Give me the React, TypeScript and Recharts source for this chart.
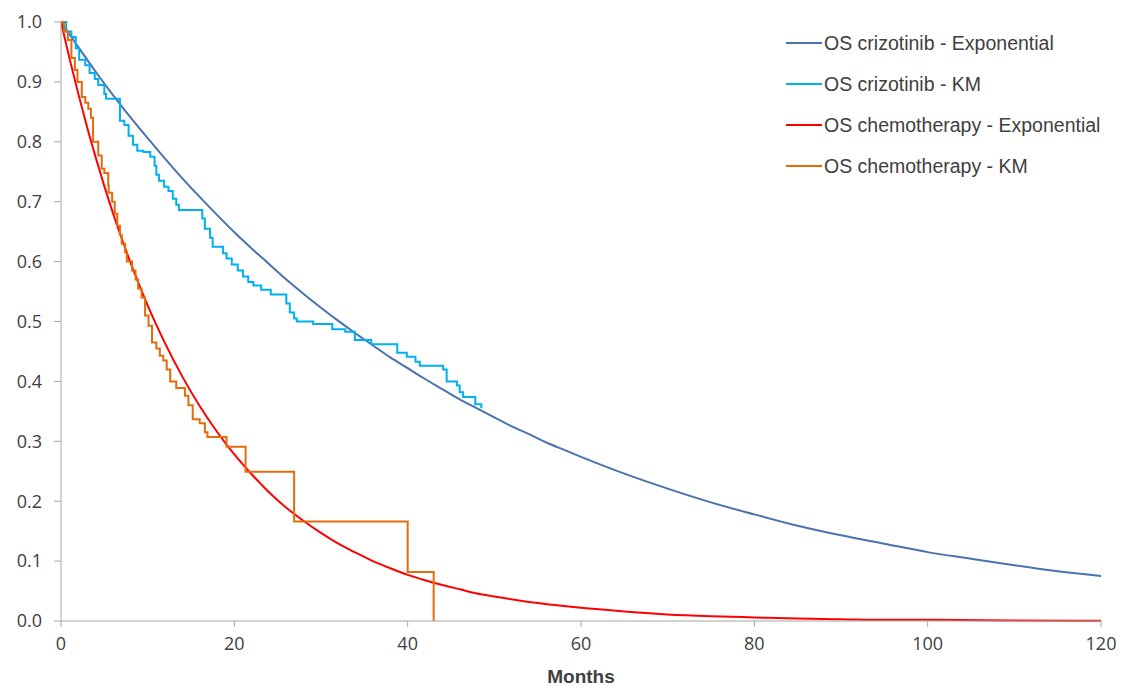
import React from 'react';
import { LineChart, Line, XAxis, YAxis, Label } from 'recharts';

// ---- Data ----
const crizoExpMonths = [0, 2, 4, 6, 8, 10, 12, 14, 16, 18, 20, 22, 24, 26, 28, 30, 32, 34, 36, 38, 40, 42, 44, 46, 48, 50, 52, 54, 56, 58, 60, 65, 70, 75, 80, 85, 90, 95, 100, 105, 110, 115, 120];
const crizoExpSurv = [1.0, 0.958, 0.917, 0.878, 0.841, 0.806, 0.772, 0.739, 0.708, 0.678, 0.649, 0.622, 0.596, 0.570, 0.546, 0.523, 0.501, 0.480, 0.460, 0.440, 0.422, 0.404, 0.387, 0.370, 0.355, 0.340, 0.325, 0.312, 0.298, 0.286, 0.274, 0.246, 0.221, 0.198, 0.178, 0.159, 0.143, 0.129, 0.115, 0.104, 0.093, 0.083, 0.075];

const crizoKmMonths = [0, 0.6, 1.2, 1.7, 2.1, 2.8, 3.3, 3.9, 4.3, 5.0, 5.2, 6.8, 7.3, 7.8, 8.3, 8.8, 9.5, 10.3, 10.8, 11.0, 11.3, 11.9, 12.4, 12.9, 13.3, 13.6, 16.3, 16.6, 17.2, 17.5, 18.7, 19.1, 19.7, 20.4, 21.0, 21.6, 22.2, 23.1, 24.2, 26.0, 26.4, 26.9, 27.2, 29.1, 31.3, 32.8, 33.9, 35.8, 38.8, 39.9, 40.9, 41.4, 44.1, 44.5, 45.7, 46.0, 46.4, 47.8, 48.5];
const crizoKmSurv = [1.0, 0.984, 0.975, 0.956, 0.937, 0.928, 0.915, 0.905, 0.895, 0.880, 0.872, 0.835, 0.828, 0.810, 0.795, 0.785, 0.783, 0.775, 0.760, 0.745, 0.735, 0.725, 0.718, 0.705, 0.695, 0.686, 0.672, 0.655, 0.640, 0.625, 0.614, 0.605, 0.595, 0.585, 0.575, 0.566, 0.560, 0.553, 0.545, 0.530, 0.515, 0.505, 0.500, 0.496, 0.487, 0.483, 0.469, 0.462, 0.448, 0.441, 0.433, 0.426, 0.420, 0.400, 0.393, 0.382, 0.374, 0.362, 0.355];

const chemoExpMonths = [0, 1, 2, 3, 4, 5, 6, 7, 8, 9, 10, 12, 14, 16, 18, 20, 22, 24, 26, 28, 30, 32, 34, 36, 38, 40, 42, 44, 46, 48, 50, 55, 60, 65, 70, 75, 80, 85, 90, 95, 100, 110, 120];
const chemoExpSurv = [1.0, 0.938, 0.880, 0.825, 0.774, 0.726, 0.681, 0.639, 0.599, 0.562, 0.527, 0.464, 0.408, 0.359, 0.316, 0.278, 0.245, 0.215, 0.189, 0.167, 0.147, 0.129, 0.114, 0.100, 0.088, 0.077, 0.068, 0.060, 0.053, 0.046, 0.041, 0.030, 0.022, 0.016, 0.011, 0.008, 0.006, 0.004, 0.003, 0.002, 0.002, 0.001, 0.0005];

const chemoKmMonths = [0, 0.35, 0.8, 1.2, 1.6, 1.9, 2.4, 2.8, 3.15, 3.45, 3.7, 4.3, 4.7, 5.0, 5.45, 5.5, 5.9, 6.2, 6.5, 6.8, 7.0, 7.4, 7.6, 8.2, 8.6, 8.9, 9.3, 9.7, 10.1, 10.5, 11.0, 11.4, 11.8, 12.2, 12.6, 13.3, 14.3, 14.7, 15.2, 16.0, 16.6, 16.9, 19.1, 21.3, 26.9, 40.0, 43.0];
const chemoKmSurv = [1.0, 0.984, 0.970, 0.940, 0.920, 0.900, 0.875, 0.865, 0.855, 0.840, 0.800, 0.777, 0.755, 0.748, 0.728, 0.715, 0.700, 0.680, 0.660, 0.645, 0.630, 0.615, 0.600, 0.585, 0.570, 0.555, 0.540, 0.510, 0.493, 0.465, 0.455, 0.443, 0.435, 0.420, 0.400, 0.389, 0.376, 0.360, 0.337, 0.330, 0.315, 0.307, 0.291, 0.249, 0.166, 0.082, 0.0];

const xTicks = [0, 20, 40, 60, 80, 100, 120];
const yTicks = [0, 0.1, 0.2, 0.3, 0.4, 0.5, 0.6, 0.7, 0.8, 0.9, 1.0];

const seriesNames = [
  'OS crizotinib - Exponential',
  'OS crizotinib - KM',
  'OS chemotherapy - Exponential',
  'OS chemotherapy - KM',
];
const seriesColors = ['#4A72AE', '#00B0F0', '#FF0000', '#E46C0A'];

const zip = (ts: number[], ss: number[]) => ts.map((t, i) => ({ t, s: ss[i] }));

const crizoExp = zip(crizoExpMonths, crizoExpSurv);
const crizoKm = zip(crizoKmMonths, crizoKmSurv);
const chemoExp = zip(chemoExpMonths, chemoExpSurv);
const chemoKm = zip(chemoKmMonths, chemoKmSurv);

const axisColor = '#A6A6A6';
const tickFont = { fontFamily: '"Open Sans", "Liberation Sans", Arial, sans-serif', fontSize: 18, fill: '#404040' };

export default function App() {
  return (
    <div style={{ position: 'absolute', left: 0, top: 0, width: 1121, height: 686, background: '#fff' }}>
      <LineChart width={1121} height={686} margin={{ top: 22, right: 20, bottom: 0, left: 0 }}>
        <XAxis
          type="number"
          dataKey="t"
          domain={[0, 120]}
          ticks={xTicks}
          allowDataOverflow
          height={65}
          stroke={axisColor}
          tickLine={{ stroke: axisColor }}
          tickSize={6}
          tickMargin={10}
          tick={tickFont}
        >
          <Label
            value="Months"
            position="insideBottom"
            offset={3}
            style={{ fontFamily: '"Liberation Sans", Arial, sans-serif', fontSize: 19, fontWeight: 'bold', fill: '#404040' }}
          />
        </XAxis>
        <YAxis
          type="number"
          domain={[0, 1]}
          ticks={yTicks}
          width={61}
          stroke={axisColor}
          tickLine={{ stroke: axisColor }}
          tickSize={7}
          tickMargin={12}
          tickFormatter={(v: number) => v.toFixed(1)}
          tick={tickFont}
        />
        <Line data={crizoExp} dataKey="s" name={seriesNames[0]} type="monotone" stroke={seriesColors[0]} strokeWidth={2} dot={false} isAnimationActive={false} />
        <Line data={crizoKm} dataKey="s" name={seriesNames[1]} type="stepAfter" stroke={seriesColors[1]} strokeWidth={2} dot={false} isAnimationActive={false} />
        <Line data={chemoExp} dataKey="s" name={seriesNames[2]} type="monotone" stroke={seriesColors[2]} strokeWidth={2} dot={false} isAnimationActive={false} />
        <Line data={chemoKm} dataKey="s" name={seriesNames[3]} type="stepAfter" stroke={seriesColors[3]} strokeWidth={2} dot={false} isAnimationActive={false} />
      </LineChart>
      <div style={{ position: 'absolute', left: 786, top: 22, fontFamily: '"Liberation Sans", Arial, sans-serif', fontSize: 19.5, color: '#404040' }}>
        {seriesNames.map((n, i) => (
          <div key={n} style={{ display: 'flex', alignItems: 'center', height: 41, lineHeight: '24px', whiteSpace: 'nowrap' }}>
            <span style={{ display: 'inline-block', width: 36, height: 2, background: seriesColors[i], marginRight: 2 }} />
            <span>{n}</span>
          </div>
        ))}
      </div>
    </div>
  );
}
